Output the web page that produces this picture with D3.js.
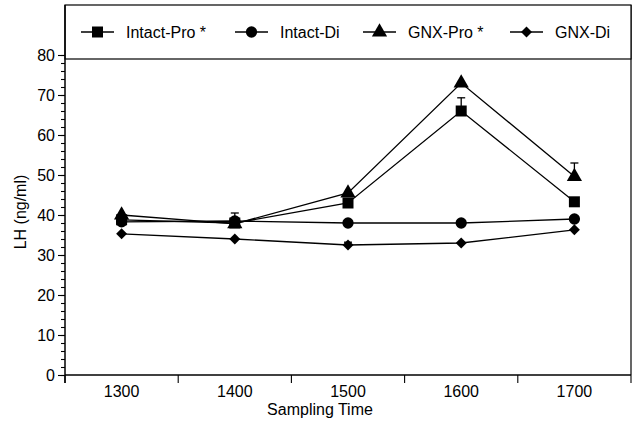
<!DOCTYPE html>
<html>
<head>
<meta charset="utf-8">
<script src="https://cdn.jsdelivr.net/npm/d3@7"></script>
<style>
  body { margin: 0; background: #fff; }
  text { font-family: "Liberation Sans", Arial, sans-serif; fill: #000; }
</style>
</head>
<body>
<script>
'use strict';

// sampling times and LH means (ng/ml)
var times = ["1300", "1400", "1500", "1600", "1700"];
var intactPro = [38.8, 38.0, 43.0, 66.0, 43.3];
var intactDi = [38.3, 38.5, 38.0, 38.0, 39.0];
var gnxPro = [40.0, 37.8, 45.5, 73.0, 49.6];
var gnxDi = [35.3, 34.0, 32.5, 33.0, 36.3];
// upper error (SEM) where a bar is visible
var intactProErr = [0, 2.5, 0, 3.3, 0];
var intactDiErr = [0, 0, 0, 0, 0];
var gnxProErr = [0, 0, 0, 0, 3.4];
var gnxDiErr = [0, 0, 0.7, 0, 0];
var names = ["Intact-Pro *", "Intact-Di", "GNX-Pro *", "GNX-Di"];
var yTicks = [0, 10, 20, 30, 40, 50, 60, 70, 80];

var width = 634, height = 425;
var plotLeft = 65, plotRight = 631, plotTop = 5, legendBottom = 59, plotBottom = 375;

var svg = d3.select("body").append("svg")
    .attr("width", width)
    .attr("height", height);

var x = d3.scaleBand()
    .domain(times)
    .range([plotLeft, plotRight]);

var y = d3.scaleLinear()
    .domain([0, 80])
    .range([plotBottom, 55]);

// square rotated 45 degrees, as in the original figure
var wideDiamond = {
    draw: function (ctx, size) {
        var r = Math.sqrt(size / 2);
        ctx.moveTo(0, -r);
        ctx.lineTo(r, 0);
        ctx.lineTo(0, r);
        ctx.lineTo(-r, 0);
        ctx.closePath();
    }
};

var symbols = [
    d3.symbol().type(d3.symbolSquare).size(121),
    d3.symbol().type(d3.symbolCircle).size(100),
    d3.symbol().type(d3.symbolTriangle).size(100),
    d3.symbol().type(wideDiamond).size(60)
];

var series = [
    { name: names[0], values: intactPro, err: intactProErr, sym: symbols[0] },
    { name: names[1], values: intactDi, err: intactDiErr, sym: symbols[1] },
    { name: names[2], values: gnxPro, err: gnxProErr, sym: symbols[2] },
    { name: names[3], values: gnxDi, err: gnxDiErr, sym: symbols[3] }
];

var cx = function (i) { return x(times[i]) + x.bandwidth() / 2; };

// frame: right border and legend box
svg.append("line")
    .attr("x1", plotRight).attr("x2", plotRight)
    .attr("y1", plotTop).attr("y2", plotBottom)
    .attr("stroke", "#000").attr("stroke-width", 1.2);
svg.append("rect")
    .attr("x", plotLeft).attr("y", plotTop)
    .attr("width", plotRight - plotLeft).attr("height", legendBottom - plotTop)
    .attr("fill", "#fff")
    .attr("stroke", "#000").attr("stroke-width", 1.2);

// y axis with minor ticks
var yAxisGroup = svg.append("g")
    .attr("transform", "translate(" + plotLeft + ",0)");
yAxisGroup.append("g")
    .call(d3.axisLeft(y).tickValues(d3.range(0, 81, 2)).tickSize(4).tickFormat(""));
yAxisGroup.append("g")
    .call(d3.axisLeft(y).tickValues(yTicks).tickSize(7).tickPadding(3));
yAxisGroup.selectAll(".domain").remove();
yAxisGroup.selectAll("line").attr("stroke", "#000").attr("stroke-width", 1.1);
yAxisGroup.selectAll("text")
    .style("font-family", "Liberation Sans, Arial, sans-serif")
    .style("font-size", "16px");
yAxisGroup.append("line")
    .attr("x1", 0).attr("x2", 0)
    .attr("y1", plotTop).attr("y2", plotBottom + 8)
    .attr("stroke", "#000").attr("stroke-width", 1.5);

// x axis: labels centred, ticks on band boundaries
var xAxisGroup = svg.append("g")
    .attr("transform", "translate(0," + plotBottom + ")");
xAxisGroup.call(d3.axisBottom(x).tickSize(0).tickPadding(11));
xAxisGroup.select(".domain").remove();
xAxisGroup.selectAll("text")
    .style("font-family", "Liberation Sans, Arial, sans-serif")
    .style("font-size", "16px");
xAxisGroup.append("line")
    .attr("x1", plotLeft).attr("x2", plotRight)
    .attr("y1", 0).attr("y2", 0)
    .attr("stroke", "#000").attr("stroke-width", 1.5);
xAxisGroup.selectAll(".bound")
    .data(times.concat(["end"]))
    .enter().append("line")
    .attr("class", "bound")
    .attr("x1", function (d, i) { return plotLeft + i * x.step(); })
    .attr("x2", function (d, i) { return plotLeft + i * x.step(); })
    .attr("y1", 0).attr("y2", 8)
    .attr("stroke", "#000").attr("stroke-width", 1.1);

// axis titles
svg.append("text")
    .attr("x", 320).attr("y", 415)
    .attr("text-anchor", "middle")
    .style("font-size", "16px")
    .text("Sampling Time");
svg.append("text")
    .attr("transform", "translate(26,212) rotate(-90)")
    .attr("text-anchor", "middle")
    .style("font-size", "16px")
    .text("LH (ng/ml)");

// lines
var line = d3.line()
    .x(function (d, i) { return cx(i); })
    .y(function (d) { return y(d); });

var plot = svg.append("g");

series.forEach(function (s) {
    plot.append("path")
        .datum(s.values)
        .attr("fill", "none")
        .attr("stroke", "#000")
        .attr("stroke-width", 1.3)
        .attr("d", line);
});

// error bars (upper only)
series.forEach(function (s) {
    s.err.forEach(function (e, i) {
        if (!e) return;
        var capY = y(s.values[i] + e);
        plot.append("line")
            .attr("x1", cx(i)).attr("x2", cx(i))
            .attr("y1", y(s.values[i])).attr("y2", capY)
            .attr("stroke", "#000").attr("stroke-width", 1.3);
        plot.append("line")
            .attr("x1", cx(i) - 4).attr("x2", cx(i) + 4)
            .attr("y1", capY).attr("y2", capY)
            .attr("stroke", "#000").attr("stroke-width", 1.3);
    });
});

// markers
series.forEach(function (s) {
    plot.selectAll(null)
        .data(s.values)
        .enter().append("path")
        .attr("transform", function (d, i) { return "translate(" + cx(i) + "," + y(d) + ")"; })
        .attr("d", s.sym)
        .attr("fill", "#000");
});

// legend
var legendX = [81, 235, 363, 510];
var legend = svg.append("g");
series.forEach(function (s, i) {
    var g = legend.append("g")
        .attr("transform", "translate(" + legendX[i] + ",32)");
    g.append("line")
        .attr("x1", 0).attr("x2", 33)
        .attr("y1", 0).attr("y2", 0)
        .attr("stroke", "#000").attr("stroke-width", 1.3);
    g.append("path")
        .attr("transform", "translate(16.5,0)")
        .attr("d", s.sym)
        .attr("fill", "#000");
    g.append("text")
        .attr("x", 45).attr("y", 6)
        .style("font-size", "16px")
        .text(s.name);
});
</script>
</body>
</html>
